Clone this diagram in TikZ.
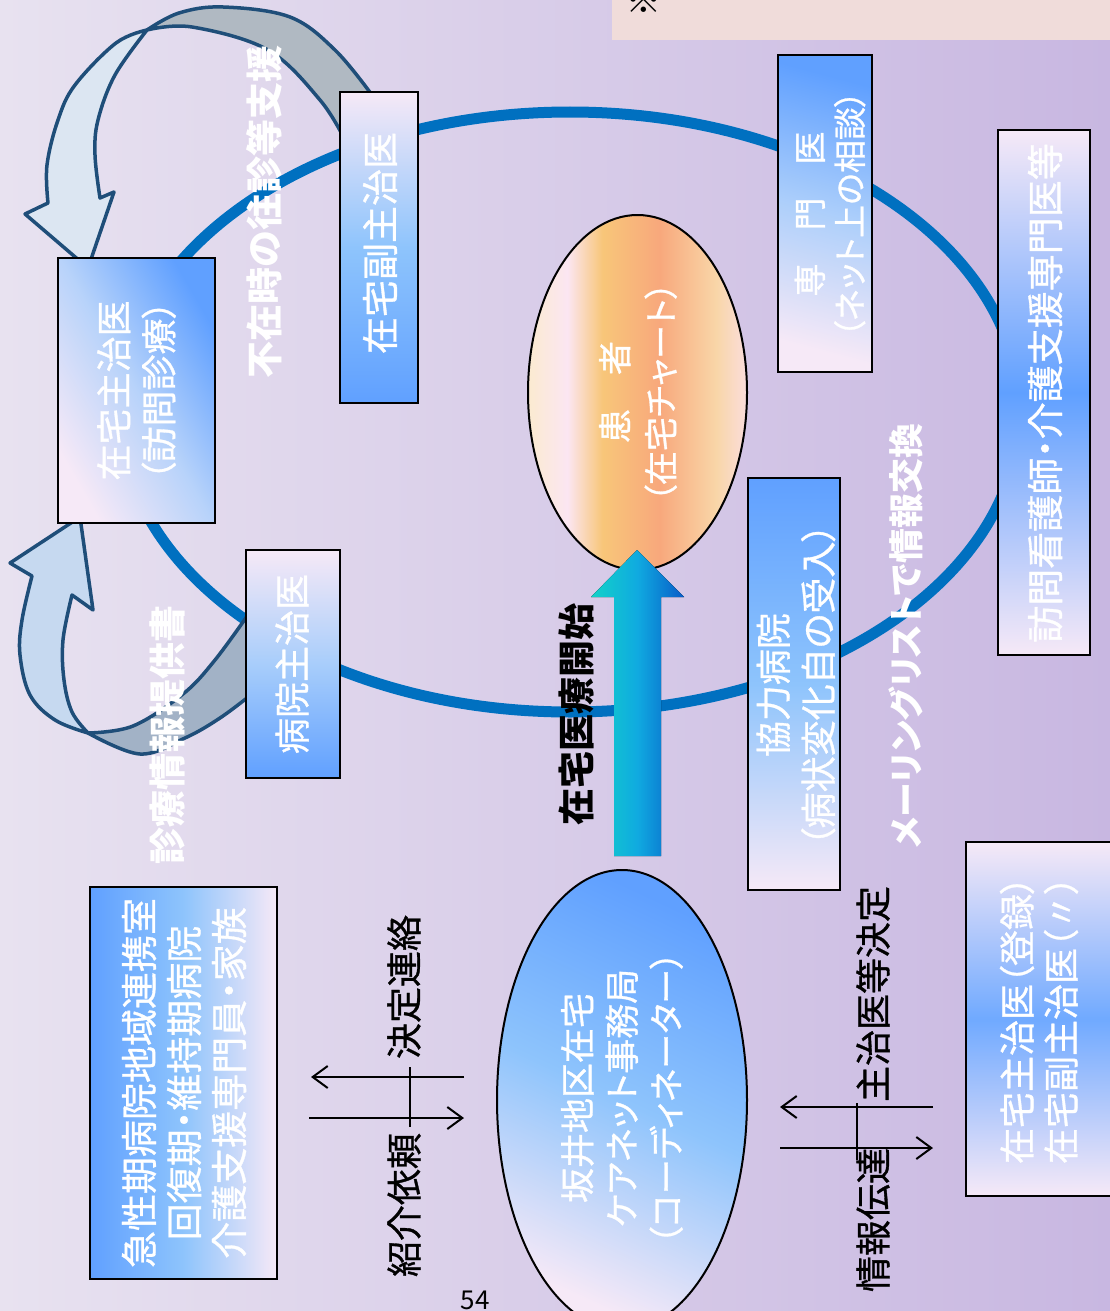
\documentclass[tikz,border=0pt]{standalone}
\usepackage{fontspec}
\setmainfont{Noto Sans CJK JP}[RawFeature=+palt]
\newfontfamily\jpm{Noto Sans CJK JP}[RawFeature=+palt, FakeBold=0.9]
\usetikzlibrary{shapes.geometric,arrows.meta}
\definecolor{bgL}{HTML}{E8E2F0}
\definecolor{bgR}{HTML}{C8B7E1}
\definecolor{ringc}{HTML}{0070C0}
\definecolor{bblue}{HTML}{60A0FF}
\definecolor{mblue}{HTML}{8EC4FC}
\definecolor{pinkw}{HTML}{F6E9F7}
\definecolor{outl}{HTML}{1F4E79}
\definecolor{lbluea}{HTML}{DCE6F2}
\definecolor{lblueb}{HTML}{C6D9F0}
\definecolor{greya}{HTML}{B0B9C2}
\definecolor{greyb}{HTML}{A2B2C6}
\definecolor{topbox}{HTML}{F0DCDA}
\definecolor{ka}{HTML}{FBEAD2}
\definecolor{kb}{HTML}{FBE6F2}
\definecolor{kc}{HTML}{F8C679}
\definecolor{kd}{HTML}{F8A87C}
\definecolor{ke}{HTML}{F9D6A8}
\definecolor{kf}{HTML}{FADDDC}
\definecolor{arrL}{RGB}{18,210,200}
\definecolor{arrM}{RGB}{16,170,224}
\definecolor{arrR}{RGB}{8,92,200}
\pgfdeclarehorizontalshading{kanja}{100bp}{color(0bp)=(ka); color(25.5bp)=(ka); color(34bp)=(kb); color(42bp)=(kc); color(55bp)=(kd); color(68bp)=(ke); color(75bp)=(kf); color(100bp)=(kf)}
\begin{document}
\begin{tikzpicture}[x=1pt,y=-1pt,
  box/.style={draw=black, line width=2.5pt, rectangle, inner sep=0pt},
  lbl/.style={rotate=90, text=white, font=\jpm\fontsize{36}{45}\selectfont, align=center, inner sep=0pt},
  blbl/.style={rotate=90, text=white, font=\fontsize{37}{45}\selectfont\bfseries, inner sep=0pt},
  klbl/.style={rotate=90, text=black, font=\jpm\fontsize{36}{45}\selectfont, inner sep=0pt},
  band/.style={draw=outl, line width=3.5pt, line join=round},
  blk/.style={draw=black, line width=2pt, -{Straight Barb[length=15pt,width=22pt]}},
  tick/.style={draw=black, line width=2pt}]
\useasboundingbox (0,0) rectangle (1110,1311);
\clip (0,0) rectangle (1110,1311);
% background
\fill[left color=bgL, right color=bgR] (0,0) rectangle (1110,1311);
\fill[topbox] (612,0) rectangle (1110,40);
\node[rotate=90, font=\fontsize{36}{40}\selectfont\bfseries, inner sep=0pt] (kome) at (644,0) {※};
% ring
\draw[ringc, line width=11pt] (570,412) ellipse [x radius=450pt, y radius=300pt];
% upper curved arrow
\filldraw[band, fill=greya] plot[smooth, tension=0.6] coordinates {(147,30) (179,13) (223,7) (290,17) (335,50) (372,95)} -- (372,150) -- plot[smooth, tension=0.6] coordinates {(345,140) (320,100) (268,50) (192,27) (147,30)} -- cycle;
\filldraw[band, fill=lbluea] plot[smooth, tension=0.6] coordinates {(147,30) (116,43) (75,85) (58,120) (47,165) (48,203)} -- (25,214) -- (88,268) -- (114,192) -- plot[smooth, tension=0.6] coordinates {(100,198) (95,155) (98,120) (115,75) (147,30)} -- cycle;
% lower curved arrow
\filldraw[band, fill=greyb] plot[smooth, tension=0.6] coordinates {(88,733) (140,754) (185,738) (220,718) (252,694)} -- (252,615) -- plot[smooth, tension=0.6] coordinates {(250,612) (215,660) (183,694) (133,726) (88,733)} -- cycle;
\filldraw[band, fill=lblueb] (80,517) -- (10,563) -- plot[smooth, tension=0.6] coordinates {(32,576) (22,620) (20,655) (30,695) (55,720) (88,733)} -- plot[smooth, tension=0.6] coordinates {(88,733) (72,712) (64,680) (63,640) (72,595)} -- (93,610) -- cycle;
% boxes
\node[box, minimum width=157, minimum height=265, top color=bblue, bottom color=pinkw, middle color=mblue!60!pinkw, shading angle=-60] (bzaitaku) at (136.5,390.5) {};
\node[box, minimum width=78, minimum height=311, top color=pinkw, bottom color=bblue, middle color=mblue] (bfuku) at (379,247.5) {};
\node[box, minimum width=94, minimum height=317, top color=bblue, bottom color=pinkw, middle color=mblue!70!pinkw, shading angle=-15] (bsenmon) at (825,213.5) {};
\node[box, minimum width=92, minimum height=525, top color=pinkw, bottom color=pinkw, middle color=bblue] (bhoumon) at (1044,392.5) {};
\node[box, minimum width=92, minimum height=412, top color=bblue, bottom color=pinkw, middle color=mblue] (bkyou) at (794,684) {};
\node[box, minimum width=94, minimum height=228, top color=pinkw, bottom color=bblue, middle color=mblue!75!pinkw] (bbyoin) at (293,664) {};
\node[box, minimum width=187, minimum height=392, left color=bblue, right color=pinkw, middle color=mblue] (bkyusei) at (183.5,1083) {};
\node[box, minimum width=149, minimum height=354, top color=pinkw, bottom color=pinkw, middle color=bblue!90!white] (btouroku) at (1040.5,1019) {};
% ellipses
\node[ellipse, draw=black, line width=2pt, minimum width=219, minimum height=355, inner sep=0pt, shade, shading=kanja] (kanja) at (637.5,392.5) {};
\node[ellipse, draw=black, line width=2pt, minimum width=250, minimum height=460, inner sep=0pt, top color=bblue, bottom color=pinkw, middle color=mblue, shading angle=-25] (sakai) at (622,1100) {};
% big arrow from the coordinator ellipse to the patient ellipse
\fill[left color=arrL, right color=arrR, middle color=arrM] (614,856) -- (614,597) -- (591,597) -- (637,550) -- (684,597) -- (661,597) -- (661,856) -- cycle;
% box texts
\node[lbl] (tzaitaku) at (bzaitaku.center) {在宅主治医\\（訪問診療）};
\node[lbl, font=\jpm\fontsize{37}{45}\selectfont] (tfuku) at (380,243) {在宅副主治医};
\node[lbl, font=\jpm\fontsize{33}{40}\selectfont] (tsenmon) at (830,214) {専　門　医\\（ネット上の相談）};
\node[lbl, font=\jpm\fontsize{37}{45}\selectfont] (thoumon) at (1045,393) {訪問看護師・介護支援専門医等};
\node[lbl] (tkyou) at (796,685) {協力病院\\（病状変化自の受入）};
\node[lbl] (tbyoin) at (292,664) {病院主治医};
\node[lbl, font=\jpm\fontsize{37}{45}\selectfont] (tkyusei) at (184,1083) {急性期病院地域連携室\\回復期・維持期病院\\介護支援専門員・家族};
\node[lbl, align=left, font=\jpm\fontsize{36}{44}\selectfont] (ttouroku) at (1039,1020) {在宅主治医（登録）\\在宅副主治医（〃）};
\node[lbl, font=\jpm\fontsize{34}{46}\selectfont] (tkanja) at (638,392) {患　者\\（在宅チャート）};
\node[lbl, font=\jpm\fontsize{35}{44.5}\selectfont] (tsakai) at (622,1098) {坂井地区在宅\\ケアネット事務局\\（コーディネーター）};
% labels
\node[blbl] (lfuzai) at (264,212) {不在時の往診等支援};
\node[blbl] (lshinryo) at (167,735) {診療情報提供書};
\node[blbl, text=black] (lkaishi) at (577,714) {在宅医療開始};
\node[blbl, font=\fontsize{35}{45}\selectfont\bfseries] (lmail) at (906,636) {メーリングリストで情報交換};
\node[klbl] (lkettei) at (404,987) {決定連絡};
\node[klbl] (lshokai) at (404,1205) {紹介依頼};
\node[klbl] (lshuchi) at (873,994) {主治医等決定};
\node[klbl] (ljoho) at (873,1220) {情報伝達};
\node[font=\fontsize{26}{30}\selectfont, inner sep=0pt] (page) at (475,1300) {54};
% black arrows
\coordinate (la1) at (464,1077); \coordinate (la2) at (311,1077);
\coordinate (lb1) at (309,1118); \coordinate (lb2) at (464,1118);
\coordinate (ra1) at (933,1107); \coordinate (ra2) at (780,1107);
\coordinate (rb1) at (780,1148); \coordinate (rb2) at (933,1148);
\coordinate (lt1) at (410,1067); \coordinate (lt2) at (410,1127);
\coordinate (rt1) at (857,1103); \coordinate (rt2) at (857,1160);
\draw[blk] (la1) -- (la2);
\draw[blk] (lb1) -- (lb2);
\draw[blk] (ra1) -- (ra2);
\draw[blk] (rb1) -- (rb2);
\draw[tick] (lt1) -- (lt2);
\draw[tick] (rt1) -- (rt2);
\end{tikzpicture}
\end{document}
